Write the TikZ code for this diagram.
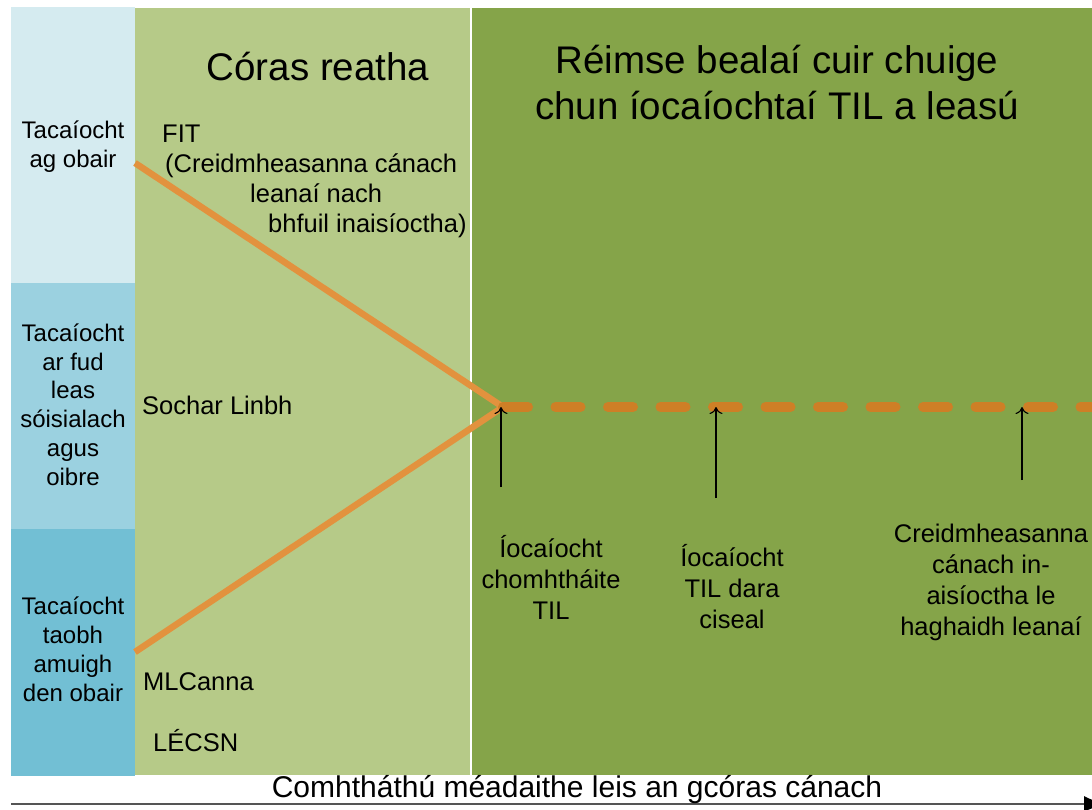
\documentclass[tikz,border=0pt]{standalone}
\usepackage{fontspec}
\setmainfont{Liberation Sans}
\usetikzlibrary{arrows.meta}

\definecolor{bandA}{RGB}{213,235,240}
\definecolor{bandB}{RGB}{155,209,224}
\definecolor{bandC}{RGB}{114,191,212}
\definecolor{currentgreen}{RGB}{182,202,136}
\definecolor{reformgreen}{RGB}{133,164,73}
\definecolor{orangeline}{RGB}{226,146,62}
\definecolor{orangedash}{RGB}{206,127,38}
\definecolor{axisgrey}{RGB}{85,85,85}

\begin{document}
\begin{tikzpicture}[x=1pt, y=-1pt,
	side/.style={font=\fontsize{24}{28.7}\selectfont, align=center, anchor=base, inner sep=0pt},
	body/.style={font=\fontsize{25.5}{31}\selectfont, align=center, anchor=base, inner sep=0pt},
	heading/.style={font=\fontsize{38.5}{46}\selectfont, align=center, anchor=base, inner sep=0pt},
	marker/.style={-{To[length=7pt,width=13pt]}, line width=1.1pt}]
	
	\useasboundingbox (0,0) rectangle (1092,809);
	
	% Panels
	\fill[bandA] (11,7) rectangle (135,283);
	\fill[bandB] (11,283) rectangle (135,529);
	\fill[bandC] (11,529) rectangle (135,776);
	\fill[currentgreen] (135,8) rectangle (470,775);
	\fill[reformgreen] (472,8) rectangle (1092,775);
	
	% Left column (placed by the last line)
	\node[side] (inwork) at (73,167) {Tacaíocht\\ag obair};
	\node[side] (across) at (73,485) {Tacaíocht\\ar fud\\leas\\sóisialach\\agus\\oibre};
	\node[side] (outwork) at (73,701) {Tacaíocht\\taobh\\amuigh\\den obair};
	
	% Current system
	\node[heading] (current) at (318,80) {Córas reatha};
	\node[body, align=left, anchor=base west, font=\fontsize{25.5}{29.7}\selectfont] (fit) at (162,232)
		{FIT\\\hspace{3pt}(Creidmheasanna cánach\\\hspace{88pt}leanaí nach\\\hspace{106pt}bhfuil inaisíoctha)};
	\node[body, anchor=base west] (sochar) at (142,414) {Sochar Linbh};
	\node[body, anchor=base west] (mlc) at (143,690) {MLCanna};
	\node[body, anchor=base west] (lecsn) at (153,751) {LÉCSN};
	
	% Reform options
	\node[heading] (reform) at (777,119) {Réimse bealaí cuir chuige\\chun íocaíochtaí TIL a leasú};
	\node[body] (pay1) at (551,619) {Íocaíocht\\chomhtháite\\TIL};
	\node[body] (pay2) at (732,628) {Íocaíocht\\TIL dara\\ciseal};
	\node[body] (pay3) at (991,635) {Creidmheasanna\\cánach in-\\aisíoctha le\\haghaidh leanaí};
	
	% Paths
	\coordinate (fitpt) at (135,163);
	\coordinate (mlcpt) at (135,652);
	\coordinate (join) at (503,407);
	\coordinate (far) at (1100,407);
	\draw[orangeline, line width=6.5pt] (fitpt) -- (join);
	\draw[orangeline, line width=6.5pt] (mlcpt) -- (join);
	\draw[orangedash, line width=10pt, line cap=round, dash pattern=on 25pt off 27.5pt] (join) -- (far);
	
	% Markers
	\coordinate (m1) at (501,487);
	\coordinate (m2) at (716,498);
	\coordinate (m3) at (1022,480);
	\draw[marker] (m1) -- (m1 |- join);
	\draw[marker] (m2) -- (m2 |- join);
	\draw[marker] (m3) -- (m3 |- join);
	
	% Axis
	\coordinate (axisL) at (11,804);
	\coordinate (axisR) at (1106,804);
	\draw[axisgrey, line width=2pt, -{Latex[length=22pt,width=16pt,color=black]}] (axisL) -- (axisR);
	\node[font=\fontsize{30}{36}\selectfont, anchor=base, inner sep=0pt] (axislabel) at (577,797)
		{Comhtháthú méadaithe leis an gcóras cánach};
	
\end{tikzpicture}
\end{document}
